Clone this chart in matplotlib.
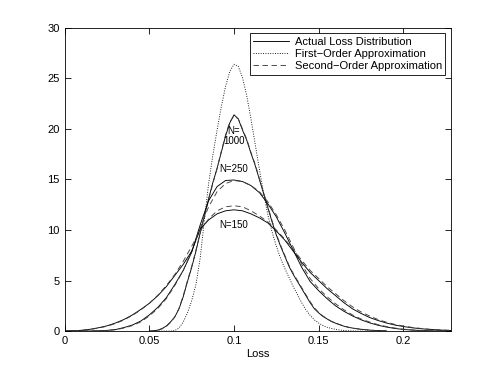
import numpy as np
import matplotlib.pyplot as plt

plt.rcParams['font.family'] = ['Liberation Sans', 'DejaVu Sans']

# broad curves (N=150, N=250) on a 0.005 grid
x_wide = np.round(np.arange(0, 0.2301, 0.005), 4)
act150 = [0, 0.03, 0.08, 0.18, 0.33, 0.52, 0.8, 1.15, 1.6, 2.15,
          2.75, 3.5, 4.4, 5.5, 6.6, 7.9, 10.1, 11.0, 11.6, 11.9,
          12.0, 11.9, 11.6, 11.2, 10.7, 9.9, 9.0, 7.9, 6.8, 5.8,
          5.0, 4.2, 3.5, 2.8, 2.2, 1.75, 1.35, 1.05, 0.8, 0.6,
          0.45, 0.33, 0.24, 0.17, 0.12, 0.08, 0.05]
sec150 = [0, 0.03, 0.07, 0.16, 0.3, 0.48, 0.75, 1.1, 1.55, 2.1,
          2.75, 3.55, 4.5, 5.6, 6.9, 8.4, 9.9, 11.1, 11.9, 12.3,
          12.4, 12.3, 11.9, 11.4, 10.8, 10.0, 9.1, 8.1, 7.0, 6.0,
          5.2, 4.4, 3.7, 3.0, 2.4, 1.9, 1.5, 1.15, 0.88, 0.66,
          0.5, 0.37, 0.27, 0.19, 0.13, 0.09, 0.06]
act250 = [0, 0, 0, 0.01, 0.03, 0.07, 0.15, 0.35, 0.6, 1.0,
          1.6, 2.35, 3.3, 4.6, 6.0, 7.8, 10.5, 12.9, 14.3, 14.9,
          14.95, 14.8, 14.4, 13.7, 12.6, 11.3, 9.7, 8.0, 6.3, 4.9,
          4.0, 3.2, 2.5, 1.95, 1.5, 1.12, 0.82, 0.58, 0.4, 0.26,
          0.16, 0.1, 0.06, 0.03, 0.01, 0, 0]
sec250 = [0, 0, 0, 0.01, 0.03, 0.06, 0.13, 0.3, 0.55, 0.92,
          1.5, 2.25, 3.2, 4.5, 6.0, 7.9, 10.2, 12.3, 13.8, 14.6,
          14.9, 14.8, 14.4, 13.8, 12.8, 11.5, 10.0, 8.3, 6.6, 5.2,
          4.2, 3.4, 2.7, 2.1, 1.6, 1.2, 0.9, 0.64, 0.45, 0.3,
          0.19, 0.12, 0.07, 0.04, 0.02, 0, 0]

# narrow curves (N=1000, first order) on a 0.0025 grid
x_narrow = np.round(np.arange(0.05, 0.19001, 0.0025), 5)
act1000 = [0, 0.03, 0.1, 0.25, 0.5, 0.9, 1.4, 2.2, 3.4, 4.9,
           6.3, 7.9, 9.7, 11.4, 13.1, 14.7, 16.1, 17.7, 19.3, 20.6,
           21.4, 21.0, 19.9, 18.9, 17.6, 16.4, 15.0, 13.6, 12.2, 10.8,
           9.5, 8.4, 7.4, 6.4, 5.6, 4.9, 4.2, 3.5, 2.8, 2.2,
           1.8, 1.45, 1.2, 0.95, 0.78, 0.62, 0.48, 0.37, 0.3, 0.23,
           0.18, 0.14, 0.1, 0.07, 0.05, 0.03, 0.02]
sec1000 = [0, 0.03, 0.09, 0.22, 0.45, 0.85, 1.4, 2.25, 3.5, 5.0,
           6.4, 8.0, 9.7, 11.4, 13.0, 14.6, 16.1, 17.8, 19.4, 20.7,
           21.3, 21.0, 20.0, 19.0, 17.7, 16.5, 15.1, 13.7, 12.3, 10.9,
           9.6, 8.5, 7.5, 6.5, 5.7, 5.0, 4.3, 3.6, 2.9, 2.3,
           1.85, 1.5, 1.22, 0.97, 0.8, 0.64, 0.5, 0.39, 0.31, 0.24,
           0.19, 0.14, 0.1, 0.07, 0.05, 0.03, 0.02]
first = [0, 0, 0, 0, 0, 0, 0.05, 0.3, 0.9, 1.8,
         3.0, 4.6, 7.2, 11.0, 14.6, 17.4, 19.9, 22.2, 24.2, 25.7,
         26.4, 26.2, 25.1, 23.3, 21.0, 18.5, 16.0, 13.6, 11.5, 9.8,
         8.4, 7.2, 6.2, 5.3, 4.4, 3.6, 2.8, 2.1, 1.55, 1.1,
         0.8, 0.55, 0.38, 0.26, 0.17, 0.1, 0.06, 0.03, 0.01, 0,
         0, 0, 0, 0, 0, 0, 0]

fig = plt.figure(figsize=(4.98, 3.72), dpi=100)
ax = fig.add_axes([0.13, 0.11, 0.775, 0.815])

lw = 0.65
ax.plot(x_narrow, act1000, 'k-', lw=lw, label='Actual Loss Distribution')
ax.plot(x_narrow, first, 'k:', lw=lw, label='First\u2212Order Approximation')
ax.plot(x_narrow, sec1000, '--', color='0.25', lw=lw, dashes=(6, 4),
        label='Second\u2212Order Approximation')
ax.plot(x_wide, act250, 'k-', lw=lw)
ax.plot(x_wide, sec250, '--', color='0.25', lw=lw, dashes=(6, 4))
ax.plot(x_wide, act150, 'k-', lw=lw)
ax.plot(x_wide, sec150, '--', color='0.25', lw=lw, dashes=(6, 4))

ax.text(0.1, 19.3, 'N=\n1000', fontsize=7, ha='center', va='center',
        multialignment='center', linespacing=1.0)
ax.text(0.1, 16.0, 'N=250', fontsize=7, ha='center', va='center')
ax.text(0.1, 10.5, 'N=150', fontsize=7, ha='center', va='center')

ax.set_xlim(0, 0.228)
ax.set_ylim(0, 30)
ax.set_xticks([0, 0.05, 0.1, 0.15, 0.2])
ax.set_xticklabels(['0', '0.05', '0.1', '0.15', '0.2'])
ax.set_yticks([0, 5, 10, 15, 20, 25, 30])
ax.tick_params(direction='in', top=True, right=True, labelsize=8, length=4, width=0.6)
for s in ax.spines.values():
    s.set_linewidth(0.6)
ax.set_xlabel('Loss', fontsize=8, labelpad=2)

leg = ax.legend(loc='upper right', fontsize=8, fancybox=False, framealpha=1,
                edgecolor='k', handlelength=3.2, borderaxespad=0.5,
                borderpad=0.3, labelspacing=0.2, handletextpad=0.5)
leg.get_frame().set_linewidth(0.6)

plt.savefig('out.png', dpi=100)
